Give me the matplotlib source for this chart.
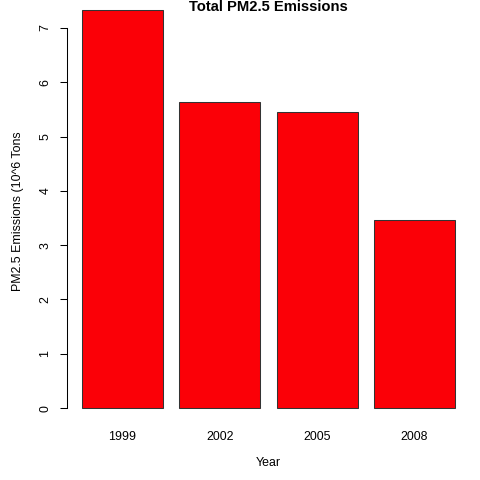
import numpy as np
import matplotlib.pyplot as plt

plt.rcParams['font.family'] = ['Liberation Sans', 'DejaVu Sans']

# total PM2.5 emissions per year, in millions of tons
years = ['1999', '2002', '2005', '2008']
emissions = [7.332, 5.636, 5.454, 3.464]
y_ticks = [0, 1, 2, 3, 4, 5, 6, 7]

fig = plt.figure(figsize=(4.8, 4.8), dpi=100)
# plot region like R's barplot: x 67..470 px, y -6..424 px
ax = fig.add_axes([67 / 480, (480 - 424) / 480, 403 / 480, 430 / 480])

# R barplot spacing: width 1, space 0.2
centers = 0.7 + 1.2 * np.arange(len(years))
ax.bar(centers, emissions, width=1.0, color='#fb0007', edgecolor='#333333', linewidth=0.75)

ax.set_xlim(0.016, 4.984)
ax.set_ylim(-0.293, 7.625)

for side in ['top', 'right', 'bottom']:
    ax.spines[side].set_visible(False)
ax.spines['left'].set_bounds(0, 7)
ax.spines['left'].set_linewidth(0.75)

ax.set_yticks(y_ticks)
ax.set_yticklabels([str(t) for t in y_ticks], rotation=90, va='center', fontsize=8.9)
ax.tick_params(axis='y', length=5.2, width=0.75, pad=6)

ax.set_xticks(centers)
ax.set_xticklabels(years, fontsize=8.9)
ax.tick_params(axis='x', length=0, pad=5)

fig.text(268.5 / 480, (480 - 11) / 480, 'Total PM2.5 Emissions', ha='center', va='baseline',
         fontsize=10.6, fontweight='bold')
fig.text(268.5 / 480, (480 - 463) / 480, 'Year', ha='center', va='center', fontsize=8.9)
fig.text(18 / 480, (480 - 211) / 480, 'PM2.5 Emissions (10^6 Tons', ha='center', va='center',
         rotation=90, fontsize=8.9)

fig.savefig('out.png', dpi=100)
